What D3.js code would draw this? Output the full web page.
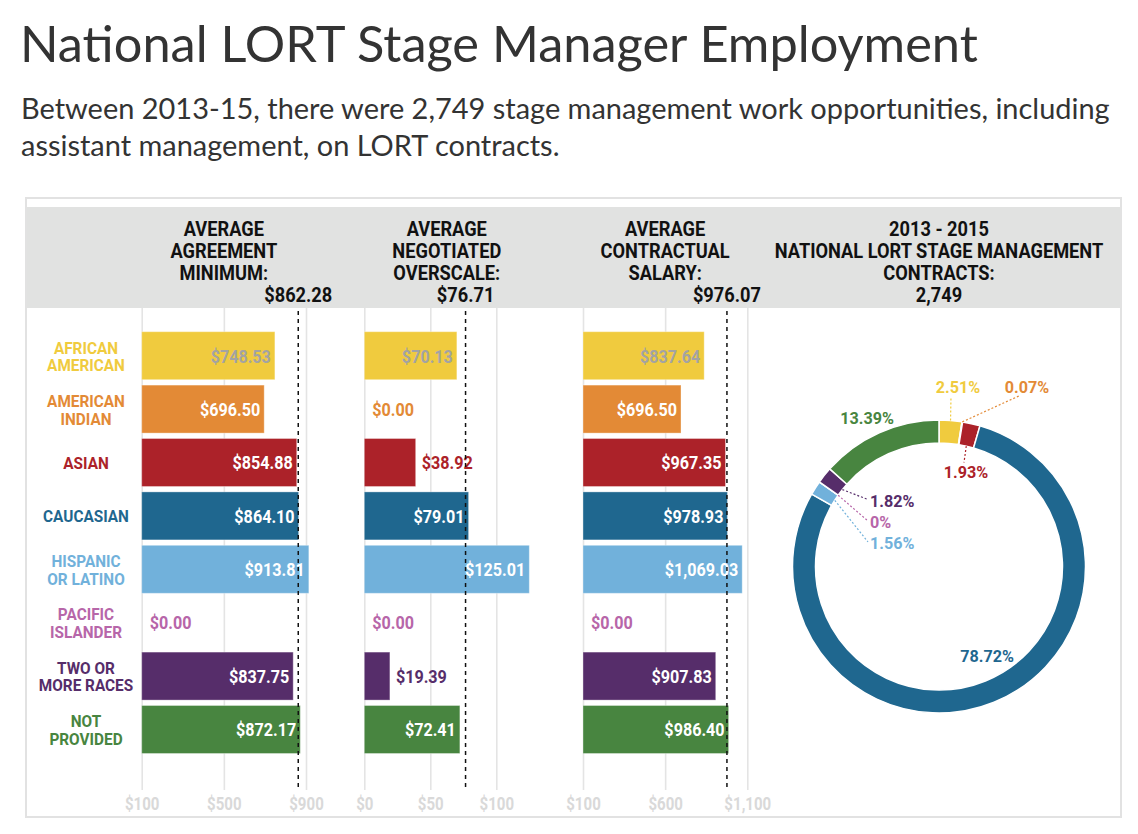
<!DOCTYPE html>
<html>
<head>
<meta charset="utf-8">
<script src="https://cdn.jsdelivr.net/npm/d3@7"></script>
<style>
  html, body { margin: 0; padding: 0; background: #fff; }
  svg { display: block; }
</style>
</head>
<body>
<svg id="chart" width="1138" height="834"></svg>
<script>
// ---------------- DATA ----------------
const categories = ["African American", "American Indian", "Asian", "Caucasian",
  "Hispanic or Latino", "Pacific Islander", "Two or More Races", "Not Provided"];
const categoryLines = [["AFRICAN", "AMERICAN"], ["AMERICAN", "INDIAN"], ["ASIAN"], ["CAUCASIAN"],
  ["HISPANIC", "OR LATINO"], ["PACIFIC", "ISLANDER"], ["TWO OR", "MORE RACES"], ["NOT", "PROVIDED"]];
const agreementMinimum = [748.53, 696.50, 854.88, 864.10, 913.81, 0, 837.75, 872.17];
const negotiatedOverscale = [70.13, 0, 38.92, 79.01, 125.01, 0, 19.39, 72.41];
const contractualSalary = [837.64, 696.50, 967.35, 978.93, 1069.03, 0, 907.83, 986.40];
const contractShare = [2.51, 0.07, 1.93, 78.72, 1.56, 0, 1.82, 13.39];
const averageAgreement = 862.28;
const averageOverscale = 76.71;
const averageSalary = 976.07;
const totalContracts = "2,749";
const ticksAgreement = [100, 500, 900];
const ticksOverscale = [0, 50, 100];
const ticksSalary = [100, 600, 1100];
const titleText = "National LORT Stage Manager Employment";
const subtitleLines = ["Between 2013-15, there were 2,749 stage management work opportunities, including",
  "assistant management, on LORT contracts."];
const header1 = ["AVERAGE", "AGREEMENT", "MINIMUM:"];
const header2 = ["AVERAGE", "NEGOTIATED", "OVERSCALE:"];
const header3 = ["AVERAGE", "CONTRACTUAL", "SALARY:"];
const header4 = ["2013 - 2015", "NATIONAL LORT STAGE MANAGEMENT", "CONTRACTS:", totalContracts];

// ---------------- STYLE ----------------
const colors = ["#f0cb3e", "#e38a36", "#ac2229", "#1f678f", "#71b1db", "#b766a9", "#562d6a", "#488540"];
const condFont = "Roboto, 'Liberation Sans', sans-serif";
const textDark = "#111";
const HF = 20.5, HS = 0.89; // header font size / squeeze

const svg = d3.select("#chart");

// condensed bold text helper: horizontal squeeze around the anchor point
function ctext(parent, x, y, str, size, anchor, fill, sx) {
  return parent.append("text")
    .attr("transform", `translate(${x},${y}) scale(${sx},1)`)
    .attr("text-anchor", anchor)
    .attr("font-family", condFont).attr("font-weight", 700).attr("font-size", size)
    .attr("fill", fill).text(str);
}

// title & subtitle (fit to measured widths)
function fitText(sel, target) {
  const w = sel.node().getComputedTextLength();
  const fs = parseFloat(sel.attr("font-size"));
  sel.attr("font-size", fs * target / w);
}
const title = svg.append("text").attr("x", 20).attr("y", 62)
  .attr("font-family", "Lato, 'Open Sans', sans-serif").attr("font-size", 48)
  .attr("fill", "#333").text(titleText);
fitText(title, 958);
const subs = subtitleLines.map((t, i) => svg.append("text").attr("x", 21).attr("y", 119 + i * 37)
  .attr("font-family", "Lato, 'Open Sans', sans-serif").attr("font-size", 24)
  .attr("fill", "#333").text(t));
fitText(subs[0], 1089);
subs[1].attr("font-size", subs[0].attr("font-size"));

// panel
svg.append("rect").attr("x", 26).attr("y", 198).attr("width", 1095).attr("height", 619)
  .attr("fill", "#fff").attr("stroke", "#e2e2e2").attr("stroke-width", 2);
svg.append("rect").attr("x", 27).attr("y", 207).attr("width", 1093).attr("height", 101)
  .attr("fill", "#e1e2e1");

// scales
const top0 = 308, axisY = 790;
const y = d3.scaleBand().domain(d3.range(categories.length))
  .range([331.7, 753.5]).paddingInner(0.101).paddingOuter(0);

const panels = [
  { data: agreementMinimum, avg: averageAgreement, ticks: ticksAgreement, header: header1,
    x: d3.scaleLinear().domain([100, 900]).range([141.7, 306]), base: 100, end: 900 },
  { data: negotiatedOverscale, avg: averageOverscale, ticks: ticksOverscale, header: header2,
    x: d3.scaleLinear().domain([0, 100]).range([364.3, 496.3]), base: 0, end: 125 },
  { data: contractualSalary, avg: averageSalary, ticks: ticksSalary, header: header3,
    x: d3.scaleLinear().domain([100, 1100]).range([583, 747.3]), base: 100, end: 1100 }
];
const fmt = d => "$" + d3.format(",.2f")(d);
const VS = 0.85; // value-label squeeze

panels.forEach((p, pi) => {
  const g = svg.append("g");
  // axis with gridlines
  const axis = d3.axisBottom(p.x).tickValues(p.ticks)
    .tickFormat(d => "$" + d3.format(",")(d))
    .tickSize(-(axisY - top0)).tickPadding(8);
  const ag = g.append("g").attr("transform", `translate(0,${axisY})`).call(axis);
  ag.select(".domain").remove();
  ag.selectAll(".tick line").attr("stroke", "#e4e4e4").attr("stroke-width", 1.6);
  ag.selectAll(".tick text").attr("fill", "#d9d9d9").attr("font-family", condFont)
    .attr("font-weight", 700).attr("font-size", 17.5).attr("transform", "scale(0.86,1)");

  // header title
  const hx = (p.x(p.base) + p.x(p.end)) / 2;
  p.header.forEach((t, i) => ctext(g, hx, 236 + i * 22, t, HF, "middle", textDark, HS));
  ctext(g, p.x(p.avg), 302, fmt(p.avg), HF, "middle", textDark, HS);

  // bars
  const rowsData = p.data.map((v, i) => ({ v, i }));
  g.selectAll("rect.bar").data(rowsData.filter(d => d.v > 0)).join("rect").attr("class", "bar")
    .attr("x", p.x(p.base)).attr("y", d => y(d.i))
    .attr("width", d => p.x(d.v) - p.x(p.base)).attr("height", y.bandwidth())
    .attr("fill", d => colors[d.i])
    .attr("stroke", "#fff").attr("stroke-opacity", 0.35).attr("stroke-width", 1);

  rowsData.forEach(d => {
    const bw = d.v > 0 ? p.x(d.v) - p.x(p.base) : 0;
    const yy = y(d.i) + y.bandwidth() / 2 + 6.8;
    const t = ctext(g, 0, yy, fmt(d.v), 19, "start", "#fff", VS);
    const w = t.node().getComputedTextLength() * VS;
    if (bw > w + 10) {
      t.attr("text-anchor", "end")
        .attr("transform", `translate(${p.x(d.v) - 4},${yy}) scale(${VS},1)`)
        .attr("fill", d.i === 0 ? "#a3a3a3" : "#fff");
    } else {
      const x0 = p.x(p.base) + bw + (d.v > 0 ? 6 : 8);
      t.attr("transform", `translate(${x0},${yy}) scale(${VS},1)`)
        .attr("fill", colors[d.i]);
    }
  });

  // average dashed line
  g.append("line").attr("x1", p.x(p.avg)).attr("x2", p.x(p.avg))
    .attr("y1", top0 + 3).attr("y2", axisY)
    .attr("stroke", "#111").attr("stroke-width", 1.5).attr("stroke-dasharray", "4,4");
});

// category labels
const catG = svg.append("g");
categoryLines.forEach((lines, i) => {
  const c = y(i) + y.bandwidth() / 2;
  const ys = lines.length === 1 ? [c + 6.5] : [c - 2.2, c + 15.4];
  lines.forEach((t, j) => ctext(catG, 86, ys[j], t, 16.5, "middle", colors[i], 0.93));
});

// header for donut
header4.forEach((t, i) => ctext(svg, 939, 236 + i * 22, t, HF, "middle", textDark, HS));

// donut
const cx = 939, cy = 566.5, rOut = 146.5, rIn = 123.5;
const pie = d3.pie().sort(null).value(d => d).startAngle(0).endAngle(2 * Math.PI);
const arcs = pie(contractShare);
const arc = d3.arc().innerRadius(rIn).outerRadius(rOut);
const dg = svg.append("g").attr("transform", `translate(${cx},${cy})`);
dg.selectAll("path").data(arcs).join("path")
  .attr("d", arc).attr("fill", (d, i) => colors[i])
  .attr("stroke", "#fff").attr("stroke-width", 1.5);

// label layout (positions only)
const labelLayout = [
  { from: "out", end: [12, -170], text: [19, -173.5], anchor: "middle" },
  { from: "out", end: [81, -171], text: [88, -173.5], anchor: "middle" },
  { from: "in", end: [25, -104], text: [27, -88.5], anchor: "middle" },
  { from: null, text: [48, 95.5], anchor: "middle" },
  { from: "in", end: [-71, -24.5], text: [-69, -17.5], anchor: "start" },
  { from: "in", end: [-71, -45.5], text: [-69, -38.5], anchor: "start" },
  { from: "in", end: [-71, -67], text: [-69, -59.5], anchor: "start" },
  { from: null, text: [-72, -142.5], anchor: "middle" }
];
const pctFmt = d => d === 0 ? "0%" : d.toFixed(2) + "%";
arcs.forEach((a, i) => {
  const L = labelLayout[i];
  const mid = (a.startAngle + a.endAngle) / 2;
  if (L.from) {
    const r = L.from === "out" ? rOut : rIn;
    dg.append("line")
      .attr("x1", r * Math.sin(mid)).attr("y1", -r * Math.cos(mid))
      .attr("x2", L.end[0]).attr("y2", L.end[1])
      .attr("stroke", colors[i]).attr("stroke-width", 1.2).attr("stroke-dasharray", "2,2");
  }
  ctext(dg, L.text[0], L.text[1], pctFmt(contractShare[i]), 17, L.anchor, colors[i], 0.95);
});
</script>
</body>
</html>
